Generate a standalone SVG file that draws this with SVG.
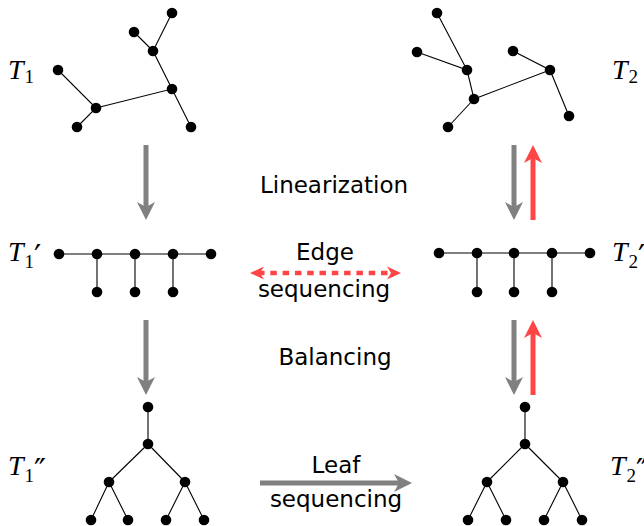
<svg xmlns="http://www.w3.org/2000/svg" width="644" height="526" viewBox="0 0 644 526">
<style>
.e{stroke:#000;stroke-width:1.1;fill:none}
.n{fill:#000}
.lbl{font-family:"DejaVu Sans",sans-serif;font-size:23px;fill:#000;text-anchor:middle}
.m{font-family:"Liberation Serif",serif;font-style:italic;font-size:28px;fill:#000}
.sub{font-style:normal;font-size:19px}
.pr{font-family:"DejaVu Sans",sans-serif;font-style:normal;font-size:32px}
.g{stroke:#808080;stroke-width:5;fill:none;marker-end:url(#ag)}
.r{stroke:#ff4545;stroke-width:5;fill:none;marker-end:url(#ar)}
.rd{stroke:#ff4545;stroke-width:4.5;fill:none;stroke-dasharray:6.5 5.8;marker-start:url(#ars);marker-end:url(#are)}
</style>
<defs>
<marker id="ag" markerUnits="userSpaceOnUse" viewBox="0 -10 20 20" markerWidth="20" markerHeight="20" refX="8" refY="0" orient="auto"><path d="M0,-9 L18,0 L0,9 L5,0 z" fill="#808080"/></marker>
<marker id="ar" markerUnits="userSpaceOnUse" viewBox="0 -10 20 20" markerWidth="20" markerHeight="20" refX="8" refY="0" orient="auto"><path d="M0,-9 L18,0 L0,9 L5,0 z" fill="#ff4545"/></marker>
<marker id="are" markerUnits="userSpaceOnUse" viewBox="0 -8 16 16" markerWidth="16" markerHeight="16" refX="6" refY="0" orient="auto"><path d="M0,-6.5 L14,0 L0,6.5 L4,0 z" fill="#ff4545"/></marker>
<marker id="ars" markerUnits="userSpaceOnUse" viewBox="0 -8 16 16" markerWidth="16" markerHeight="16" refX="8" refY="0" orient="auto"><path d="M14,-6.5 L0,0 L14,6.5 L10,0 z" fill="#ff4545"/></marker>
</defs>

<g id="connectors">
<line class="g" x1="146" y1="145" x2="146" y2="210"/>
<line class="g" x1="514" y1="145" x2="514" y2="210"/>
<line class="r" x1="533" y1="220" x2="533" y2="155"/>
<line class="g" x1="146" y1="320" x2="146" y2="385"/>
<line class="g" x1="514" y1="320" x2="514" y2="385"/>
<line class="r" x1="533" y1="395" x2="533" y2="330"/>
<line class="rd" x1="258" y1="273" x2="393" y2="273"/>
<line class="g" x1="260" y1="483" x2="402" y2="483"/>
</g>

<g id="T1">
<path class="e" d="M172,13 L153,51 M134,32 L153,51 M153,51 L172,89 L96,108 M58,70 L96,108 L77,127 M172,89 L191,127"/>
<g class="n"><circle cx="172" cy="13" r="5.3"/><circle cx="134" cy="32" r="5.3"/><circle cx="153" cy="51" r="5.3"/><circle cx="172" cy="89" r="5.3"/><circle cx="58" cy="70" r="5.3"/><circle cx="96" cy="108" r="5.3"/><circle cx="77" cy="127" r="5.3"/><circle cx="191" cy="127" r="5.3"/></g>
<text class="m" x="8" y="79">T<tspan class="sub" dx="1" dy="4">1</tspan></text>
</g>

<g id="T2">
<path class="e" d="M437,13 L467,70 M417,52 L467,70 L474,99 L550,70 M513,51 L550,70 L569,116 M474,99 L448,127"/>
<g class="n"><circle cx="437" cy="13" r="5.3"/><circle cx="417" cy="52" r="5.3"/><circle cx="467" cy="70" r="5.3"/><circle cx="513" cy="51" r="5.3"/><circle cx="550" cy="70" r="5.3"/><circle cx="474" cy="99" r="5.3"/><circle cx="448" cy="127" r="5.3"/><circle cx="569" cy="116" r="5.3"/></g>
<text class="m" x="612" y="79">T<tspan class="sub" dx="1" dy="4">2</tspan></text>
</g>

<g id="T1p">
<path class="e" d="M59,254 L211,254 M97,254 L97,292 M135,254 L135,292 M173,254 L173,292"/>
<g class="n"><circle cx="59" cy="254" r="5.3"/><circle cx="97" cy="254" r="5.3"/><circle cx="135" cy="254" r="5.3"/><circle cx="173" cy="254" r="5.3"/><circle cx="211" cy="254" r="5.3"/><circle cx="97" cy="292" r="5.3"/><circle cx="135" cy="292" r="5.3"/><circle cx="173" cy="292" r="5.3"/></g>
<text class="m" x="8" y="261">T<tspan class="sub" dx="1" dy="7">1</tspan><tspan class="pr" dx="0" dy="-1">′</tspan></text>
</g>

<g id="T2p">
<path class="e" d="M439,253 L590,253 M477,253 L477,292 M514,253 L514,292 M552,253 L552,292"/>
<g class="n"><circle cx="439" cy="253" r="5.3"/><circle cx="477" cy="253" r="5.3"/><circle cx="514" cy="253" r="5.3"/><circle cx="552" cy="253" r="5.3"/><circle cx="590" cy="253" r="5.3"/><circle cx="477" cy="292" r="5.3"/><circle cx="514" cy="292" r="5.3"/><circle cx="552" cy="292" r="5.3"/></g>
<text class="m" x="612" y="261">T<tspan class="sub" dx="1" dy="7">2</tspan><tspan class="pr" dx="0" dy="-1">′</tspan></text>
</g>

<g id="T1pp">
<path class="e" d="M148,407 L148,444 M148,444 L109,482 M148,444 L185,482 M109,482 L91,520 M109,482 L128,520 M185,482 L166,520 M185,482 L204,520"/>
<g class="n"><circle cx="148" cy="407" r="5.3"/><circle cx="148" cy="444" r="5.3"/><circle cx="109" cy="482" r="5.3"/><circle cx="185" cy="482" r="5.3"/><circle cx="91" cy="520" r="5.3"/><circle cx="128" cy="520" r="5.3"/><circle cx="166" cy="520" r="5.3"/><circle cx="204" cy="520" r="5.3"/></g>
<text class="m" x="8" y="475">T<tspan class="sub" dx="1" dy="7">1</tspan><tspan class="pr" dx="0" dy="-1">″</tspan></text>
</g>

<g id="T2pp">
<path class="e" d="M525,407 L525,444 M525,444 L487,482 M525,444 L563,482 M487,482 L468,520 M487,482 L506,520 M563,482 L544,520 M563,482 L582,520"/>
<g class="n"><circle cx="525" cy="407" r="5.3"/><circle cx="525" cy="444" r="5.3"/><circle cx="487" cy="482" r="5.3"/><circle cx="563" cy="482" r="5.3"/><circle cx="468" cy="520" r="5.3"/><circle cx="506" cy="520" r="5.3"/><circle cx="544" cy="520" r="5.3"/><circle cx="582" cy="520" r="5.3"/></g>
<text class="m" x="610" y="475">T<tspan class="sub" dx="1" dy="7">2</tspan><tspan class="pr" dx="0" dy="-1">″</tspan></text>
</g>

<g id="labels">
<text class="lbl" x="334" y="193">Linearization</text>
<text class="lbl" x="325" y="260">Edge</text>
<text class="lbl" x="324" y="297">sequencing</text>
<text class="lbl" x="335" y="365">Balancing</text>
<text class="lbl" x="336" y="473">Leaf</text>
<text class="lbl" x="336" y="507">sequencing</text>
</g>
</svg>
